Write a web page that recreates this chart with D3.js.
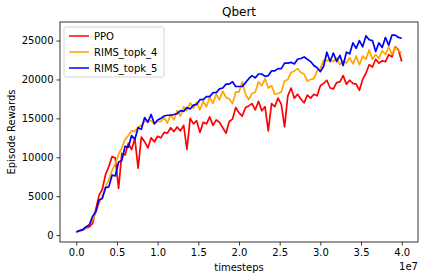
<!DOCTYPE html>
<html>
<head>
<meta charset="utf-8">
<script src="https://cdn.jsdelivr.net/npm/d3@7"></script>
<style>
  body { margin: 0; background: #fff; }
  svg { font-family: "DejaVu Sans", sans-serif; }
</style>
</head>
<body>
<svg id="chart" width="424" height="280"></svg>
<script>
// data (x step 0.04e7)
const seriesNames = ['PPO', 'RIMS_topk_4', 'RIMS_topk_5']
const seriesColors = ['red', 'orange', 'blue']
const xTicks = [0, 0.5e7, 1e7, 1.5e7, 2e7, 2.5e7, 3e7, 3.5e7, 4e7]
const yTicks = [0, 5000, 10000, 15000, 20000, 25000]

const ppo = [400, 560, 650, 920, 1050, 1500, 3300, 5100, 5900, 7800,
  8800, 10100, 9900, 6000, 10500, 10300, 11800, 11000, 12400, 8600,
  12600, 12000, 11200, 12500, 12000, 12700, 12500, 13200, 13100, 13800,
  13300, 13900, 13400, 14100, 11000, 15000, 14300, 14700, 13200, 14500,
  14300, 15200, 14100, 14800, 14500, 13800, 13100, 14600, 14900, 16400,
  15700, 15300, 16400, 16600, 16900, 16100, 17200, 16000, 16500, 13400,
  16900, 16500, 17600, 16800, 13900, 17900, 18900, 17600, 18100, 17500,
  17000, 18000, 17600, 18100, 17900, 19200, 19500, 19900, 18900, 18800,
  19600, 19700, 20500, 19400, 19900, 19500, 19400, 18600, 20000, 20800,
  21900, 21600, 22600, 22100, 22400, 22300, 23200, 22900, 24200, 23800,
  22300]

const topk4 = [400, 560, 720, 1000, 1350, 2000, 2900, 4100, 5000, 6200,
  7100, 8300, 9200, 10400, 11200, 12300, 12800, 13400, 13300, 13900,
  14100, 14600, 14700, 14700, 14300, 14600, 14600, 15100, 14400, 15500,
  14800, 16000, 15300, 16500, 16000, 17000, 16300, 17100, 16100, 17200,
  16500, 17700, 16900, 18100, 17400, 18500, 17700, 17500, 16900, 18400,
  18400, 19700, 18100, 17400, 18200, 18400, 19700, 19200, 20100, 18900,
  19200, 18100, 18200, 18400, 19800, 20000, 20900, 21100, 21400, 20900,
  20700, 19800, 20000, 20100, 21100, 21400, 22500, 22400, 22600, 22300,
  22800, 21900, 22400, 22100, 22800, 22000, 23000, 21900, 23000, 22600,
  23800, 22600, 23200, 22700, 23700, 23200, 24200, 23200, 24100, 23700,
  23400]

const topk5 = [400, 580, 700, 1080, 1300, 2400, 3000, 4500, 4700, 6100,
  6200, 7700, 7600, 9400, 9600, 11400, 11300, 12800, 12300, 13800,
  13600, 15100, 14500, 15500, 14300, 14800, 15000, 15300, 15400, 15400,
  15500, 15600, 16000, 15900, 16400, 16200, 16700, 16800, 17400, 17400,
  17800, 17800, 18300, 18300, 18800, 18900, 19400, 19400, 19700, 19100,
  19100, 19100, 19600, 20100, 20500, 20200, 20700, 20700, 20400, 20500,
  21100, 21100, 21400, 21400, 22100, 22100, 22200, 22000, 22600, 22700,
  22900, 22600, 22300, 21800, 21500, 21000, 21700, 23500, 22300, 23400,
  22300, 23100, 21800, 23500, 23300, 24700, 24000, 25000, 24200, 25600,
  25100, 25000, 23600, 24700, 24100, 25400, 24400, 25700, 25700, 25400,
  25300]

const allSeries = [ppo, topk4, topk5]
const step = 0.04e7

const svg = d3.select('#chart')
const mLeft = 60, mRight = 418, mTop = 22, mBottom = 242

const x = d3.scaleLinear().domain([-0.2e7, 4.2e7]).range([mLeft, mRight])
const y = d3.scaleLinear().domain([-885, 27385]).range([mBottom, mTop])

// lines
const line = d3.line()
  .x((d, i) => x(i * step))
  .y(d => y(d))

allSeries.forEach((s, k) => {
  svg.append('path')
    .datum(s)
    .attr('fill', 'none')
    .attr('stroke', seriesColors[k])
    .attr('stroke-width', 1.7)
    .attr('stroke-linejoin', 'round')
    .attr('d', line)
})

// axes
const xAxis = d3.axisBottom(x).tickValues(xTicks)
  .tickFormat(d => (d / 1e7).toFixed(1)).tickSize(3.5).tickPadding(3)
const yAxis = d3.axisLeft(y).tickValues(yTicks)
  .tickFormat(d => d).tickSize(3.5).tickPadding(3)

const gx = svg.append('g').attr('transform', `translate(0,${mBottom})`).call(xAxis)
const gy = svg.append('g').attr('transform', `translate(${mLeft},0)`).call(yAxis)
;[gx, gy].forEach(g => {
  g.select('.domain').remove()
  g.selectAll('.tick line').attr('stroke', '#000').attr('stroke-width', 0.8)
  g.selectAll('.tick text').attr('fill', '#000').style('font-size', '10px')
    .style('font-family', '"DejaVu Sans", sans-serif')
})

// frame
svg.append('rect')
  .attr('x', mLeft).attr('y', mTop)
  .attr('width', mRight - mLeft).attr('height', mBottom - mTop)
  .attr('fill', 'none').attr('stroke', '#000').attr('stroke-width', 0.8)

// texts
svg.append('text').attr('x', (mLeft + mRight) / 2).attr('y', 16)
  .attr('text-anchor', 'middle').style('font-size', '12px').text('Qbert')
svg.append('text').attr('x', (mLeft + mRight) / 2).attr('y', 271)
  .attr('text-anchor', 'middle').style('font-size', '10px').text('timesteps')
svg.append('text').attr('x', mRight).attr('y', 270)
  .attr('text-anchor', 'end').style('font-size', '10px').text('1e7')
svg.append('text')
  .attr('transform', `translate(15,${(mTop + mBottom) / 2}) rotate(-90)`)
  .attr('text-anchor', 'middle').style('font-size', '10px').text('Episode Rewards')

// legend
const lg = svg.append('g').attr('transform', 'translate(64,27)')
lg.append('rect').attr('width', 100).attr('height', 50).attr('rx', 2)
  .attr('fill', '#fff').attr('fill-opacity', 0.8)
  .attr('stroke', '#ccc').attr('stroke-width', 0.8)
seriesNames.forEach((name, k) => {
  const yy = 9 + k * 16
  lg.append('line').attr('x1', 5).attr('x2', 25).attr('y1', yy).attr('y2', yy)
    .attr('stroke', seriesColors[k]).attr('stroke-width', 1.5)
  lg.append('text').attr('x', 30).attr('y', yy + 3.5)
    .style('font-size', '10px').text(name)
})
</script>
</body>
</html>
